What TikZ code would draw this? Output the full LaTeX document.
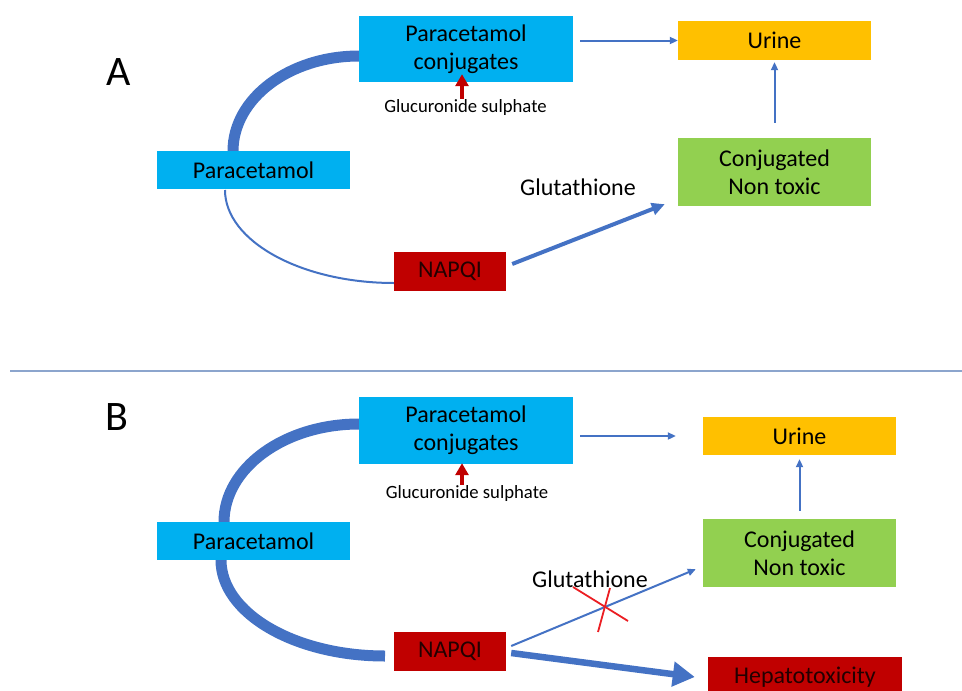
\documentclass[tikz,border=0pt]{standalone}
\usepackage{fontspec}
\setmainfont{Carlito}
\usetikzlibrary{arrows.meta}
\definecolor{boxblue}{RGB}{0,176,240}
\definecolor{boxorange}{RGB}{255,192,0}
\definecolor{boxgreen}{RGB}{146,208,80}
\definecolor{boxred}{RGB}{192,0,0}
\definecolor{darkred}{RGB}{35,0,0}
\definecolor{lineblue}{RGB}{68,114,196}
\definecolor{rulecol}{RGB}{140,165,205}
\definecolor{crossred}{RGB}{235,30,35}
\tikzset{
  box/.style={inner sep=0pt, align=center, text=black,
    font=\fontsize{24}{28}\selectfont},
  panellabel/.style={inner sep=0pt, font=\fontsize{42}{46}\selectfont},
  small/.style={inner sep=1pt, font=\fontsize{18.7}{21}\selectfont},
  flow/.style={draw=lineblue, line width=2pt,
    -{Triangle[length=8pt,width=7pt]}},
  boldflow/.style={draw=lineblue, line width=4pt,
    -{Triangle[length=13pt,width=12pt]}},
  heavyflow/.style={draw=lineblue, line width=6.5pt,
    -{Triangle[length=22pt,width=24pt]}},
  route/.style={draw=lineblue, line width=11pt},
  thinroute/.style={draw=lineblue, line width=2pt},
  enzyme/.style={draw=boxred, line width=4pt,
    -{Triangle[length=12pt,width=13pt]}},
}
\begin{document}
\begin{tikzpicture}[x=1pt,y=-1pt]
\useasboundingbox (0,0) rectangle (962,691);
\clip (0,0) rectangle (962,691);

% ---------------- panel A ----------------
\node[panellabel] (labA) at (119,72) {A};

% metabolic routes, drawn first so the boxes sit on top
\coordinate (pAtop) at (233,151);
\coordinate (pAbot) at (225,190);
\draw[route] (pAtop) .. controls +(0,-52.5) and +(-69.6,0) .. (359,56) coordinate (cAin);
\draw[thinroute] (pAbot) .. controls +(0,51) and +(-93,0) .. (394,283) coordinate (nAin);

\node[box, fill=boxblue, minimum width=214pt, minimum height=66pt] (cA) at (466,49) {Paracetamol\\conjugates};
\node[box, fill=boxblue, minimum width=193pt, minimum height=38pt] (pA) at (253.5,170) {Paracetamol};
\node[box, fill=boxred, text=darkred, minimum width=112pt, minimum height=39pt] (nA) at (450,271.5) {NAPQI};
\node[box, fill=boxorange, minimum width=193pt, minimum height=39pt] (uA) at (774.5,40.5) {Urine};
\node[box, fill=boxgreen, minimum width=193pt, minimum height=68pt] (gA) at (774.5,172) {Conjugated\\Non toxic};

\node[small] (gluA) at (465.5,108) {Glucuronide sulphate};
\node[box, inner sep=0pt] (gtA) at (578,187) {Glutathione};

\draw[enzyme] ([xshift=-3.5pt]gluA.north) -- ([xshift=-3.5pt,yshift=8pt]gluA.north |- cA.south);
\draw[flow] ([xshift=7pt]cA.east |- uA.west) -- (uA.west);
\draw[flow, shorten <=15pt, shorten >=2pt] (gA) -- (uA);
\draw[boldflow] ([shift={(6pt,7.5pt)}]nA.east) -- ([shift={(-13pt,2pt)}]gA.south west);

% divider
\coordinate (divL) at (10,371);
\coordinate (divR) at (962,371);
\draw[draw=rulecol, line width=1.6pt] (divL) -- (divR);

% ---------------- panel B ----------------
\node[panellabel] (labB) at (117,417) {B};

\coordinate (pBtop) at (224,522);
\coordinate (pBbot) at (221,560);
\draw[route] (pBtop) .. controls +(0,-54) and +(-74.6,0) .. (359,424) coordinate (cBin);
\draw[route] (pBbot) .. controls +(0,53) and +(-90.6,0) .. (385,656) coordinate (nBin);

\node[box, fill=boxblue, minimum width=214pt, minimum height=67pt] (cB) at (466,430.5) {Paracetamol\\conjugates};
\node[box, fill=boxblue, minimum width=193pt, minimum height=38pt] (pB) at (253.5,541) {Paracetamol};
\node[box, fill=boxred, text=darkred, minimum width=112pt, minimum height=39pt] (nB) at (450,651.5) {NAPQI};
\node[box, fill=boxorange, minimum width=193pt, minimum height=38pt] (uB) at (799.5,436) {Urine};
\node[box, fill=boxgreen, minimum width=193pt, minimum height=68pt] (gB) at (799.5,553) {Conjugated\\Non toxic};
\node[box, fill=boxred, text=darkred, minimum width=194pt, minimum height=40pt] (hB) at (805,677) {Hepatotoxicity};

\node[small] (gluB) at (467,494) {Glucuronide sulphate};
\node[box, inner sep=0pt] (gtB) at (590,579) {Glutathione};

\draw[enzyme] ([xshift=-5pt]gluB.north) -- ([xshift=-5pt,yshift=1pt]gluB.north |- cB.south);
\draw[flow] ([xshift=7pt]cB.east |- uB.west) -- ([xshift=-27pt]uB.west);
\draw[flow, shorten <=8pt, shorten >=4pt] (gB) -- (uB);
\draw[flow] ([shift={(5pt,5.5pt)}]nB.east) coordinate (thinstart) -- ([shift={(-7pt,18pt)}]gB.south west);
\draw[heavyflow] ([shift={(5pt,-1.5pt)}]nB.east) -- ([xshift=-13pt]hB.west);

% blocked glutathione conjugation
\coordinate (cross) at (604,607);
\draw[crossred, line width=1.8pt] (cross) ++(-31,-20) -- ++(55,34);
\draw[crossred, line width=1.8pt] (cross) ++(6,-19) -- ++(-12,44);
\end{tikzpicture}
\end{document}
